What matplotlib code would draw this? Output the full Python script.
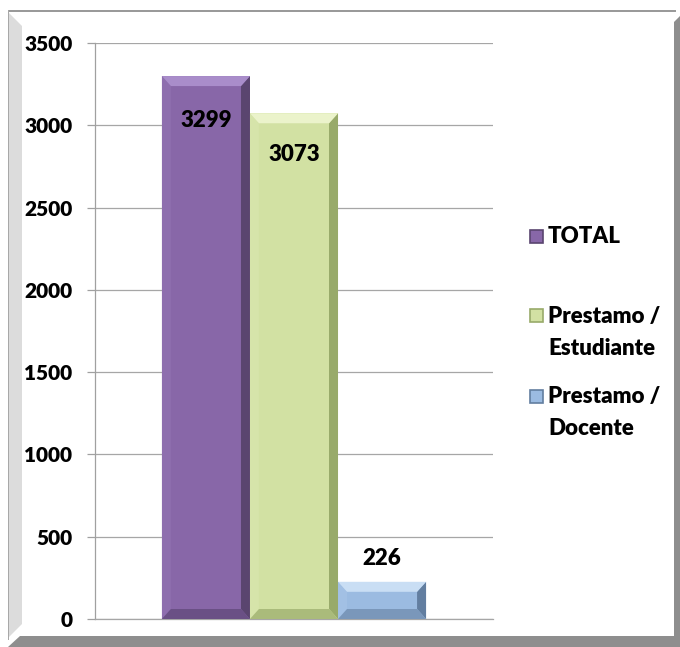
import numpy as np
import matplotlib
matplotlib.use("Agg")
import matplotlib.pyplot as plt
from matplotlib.patches import Polygon, Rectangle

plt.rcParams['font.family'] = ['Lato', 'DejaVu Sans']

# data
series = ['TOTAL', 'Prestamo /\nEstudiante', 'Prestamo /\nDocente']
values = [3299, 3073, 226]
yticks = [0, 500, 1000, 1500, 2000, 2500, 3000, 3500]

# styling
face = ['#8867a8', '#d2e1a3', '#9bbbe1']
top_c = ['#a98dca', '#ebf3cb', '#c9def4']
left_c = ['#8e6eae', '#d6e4aa', '#a2c0e4']
right_c = ['#5a456f', '#98aa6a', '#627ea0']
bot_c = ['#6a5085', '#aabb7b', '#7a97ba']
label_off = [-32, -30, 17]   # points

W, H = 680, 647
fig = plt.figure(figsize=(W / 100, H / 100), dpi=100)
fig.patch.set_facecolor('white')

def fx(px):
    return px / W

def fy(py):
    return 1 - py / H

def fpoly(pts, color):
    p = Polygon([(fx(a), fy(b)) for a, b in pts], closed=True, facecolor=color,
                edgecolor='none', transform=fig.transFigure)
    fig.patches.append(p)

# picture frame
fpoly([(8, 10), (676, 10), (676, 12), (8, 12)], '#9a9a9a')
fpoly([(8, 12), (22, 26), (22, 624), (8, 638)], '#dcdcdc')
fpoly([(8, 10), (9, 10), (9, 640), (8, 640)], '#a8a8a8')
fpoly([(8, 647), (20, 636), (680, 636), (680, 647)], '#8e8e8e')
fpoly([(674, 22), (680, 16), (680, 647), (674, 647)], '#8e8e8e')

# axes area
ax = fig.add_axes([fx(95), fy(619), 398 / W, 576 / H])
ax.set_facecolor('none')
x = np.arange(len(values)) - 1.0
xl = (-2.26, 2.26)
ax.set_xlim(*xl)
ax.set_ylim(0, 3500)
ax.set_yticks(yticks)
ax.set_xticks([])
ax.yaxis.grid(True, color='#a6a6a6', lw=0.9)
ax.set_axisbelow(True)
for s in ['top', 'right']:
    ax.spines[s].set_visible(False)
ax.spines['left'].set_color('#a0a0a0')
ax.spines['bottom'].set_color('#a6a6a6')
ax.spines['left'].set_linewidth(0.9)
ax.spines['bottom'].set_linewidth(0.9)
ax.tick_params(axis='y', direction='out', length=5.8, width=0.9, color='#a0a0a0',
               pad=10.5, labelsize=15)
for t in ax.get_yticklabels():
    t.set_fontweight('heavy')

# bevel size in data units (about 9 px)
bx = 9 / 398 * (xl[1] - xl[0])
by = 10 / 576 * 3500

bw = 1.0
for i, v in enumerate(values):
    x0, x1 = x[i] - bw / 2, x[i] + bw / 2
    ax.bar(x[i], v, width=bw, color=face[i], edgecolor='none', zorder=2)
    ax.add_patch(Polygon([(x0, 0), (x0, v), (x0 + bx, v - by), (x0 + bx, by)],
                         facecolor=left_c[i], edgecolor='none', zorder=3))
    ax.add_patch(Polygon([(x1, 0), (x1, v), (x1 - bx, v - by), (x1 - bx, by)],
                         facecolor=right_c[i], edgecolor='none', zorder=3))
    ax.add_patch(Polygon([(x0, 0), (x1, 0), (x1 - bx, by), (x0 + bx, by)],
                         facecolor=bot_c[i], edgecolor='none', zorder=3))
    ax.add_patch(Polygon([(x0, v), (x1, v), (x1 - bx, v - by), (x0 + bx, v - by)],
                         facecolor=top_c[i], edgecolor='none', zorder=3))
    ax.annotate(str(v), (x[i], v), xytext=(0, label_off[i]), textcoords='offset points',
                ha='center', va='center', fontsize=16, fontweight='heavy', zorder=5)

# legend drawn by hand (square beside first line of each entry)
leg_y = [236, 316, 396]
for i, lab in enumerate(series):
    cy = leg_y[i]
    fig.patches.append(Rectangle((fx(530), fy(cy + 6.5)), 13 / W, 13 / H,
                                 facecolor=face[i], edgecolor=right_c[i], lw=1.2,
                                 transform=fig.transFigure))
    for j, line in enumerate(lab.split('\n')):
        fig.text(fx(548), fy(cy + 7 + j * 32), line, fontsize=16, fontweight='heavy',
                 ha='left', va='baseline')

fig.savefig('out.png', dpi=100, facecolor='white')
